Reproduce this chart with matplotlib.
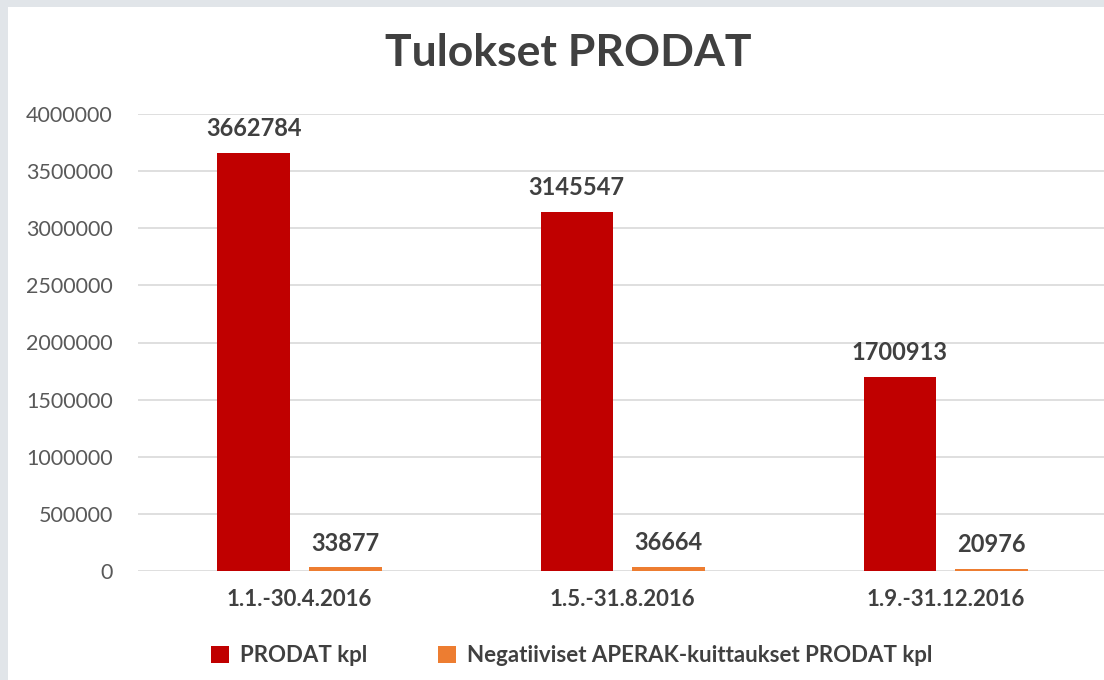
import matplotlib.pyplot as plt
import numpy as np
from matplotlib.patches import Rectangle

categories = ["1.1.-30.4.2016", "1.5.-31.8.2016", "1.9.-31.12.2016"]
prodat = [3662784, 3145547, 1700913]
negatiiviset = [33877, 36664, 20976]
series_names = ["PRODAT kpl", "Negatiiviset APERAK-kuittaukset PRODAT kpl"]
yticks = [0, 500000, 1000000, 1500000, 2000000, 2500000, 3000000, 3500000, 4000000]

RED = "#C00000"
ORANGE = "#ED7D31"
DARK = "#404040"

plt.rcParams['font.family'] = ['Lato', 'DejaVu Sans']

fig = plt.figure(figsize=(11.04, 6.8), dpi=100)
fig.patch.set_facecolor("#e1e5e9")
# white chart area
fig.patches.append(Rectangle((8 / 1104, 0), 1, 1 - 7 / 680, transform=fig.transFigure,
                             facecolor="white", edgecolor="none", zorder=-10))

ax = fig.add_axes([138 / 1104, 1 - 571 / 680, 1 - 138 / 1104, (571 - 114) / 680])
ax.set_facecolor("none")

x = np.arange(len(categories))
w = 0.224
off = 0.142
b1 = ax.bar(x - off, prodat, w, color=RED, label=series_names[0], zorder=3)
b2 = ax.bar(x + off, negatiiviset, w, color=ORANGE, label=series_names[1], zorder=3)

for bars, vals in [(b1, prodat), (b2, negatiiviset)]:
    for rect, v in zip(bars, vals):
        ax.annotate(str(v), (rect.get_x() + rect.get_width() / 2, v),
                    xytext=(0, 9), textcoords="offset points", ha="center", va="bottom",
                    fontsize=17, fontweight="bold", color=DARK)

ax.set_xlim(-0.5, 2.49)
ax.set_ylim(0, 4000000)
ax.set_yticks(yticks)
ax.set_yticklabels([str(t) for t in yticks])
ax.set_xticks(x)
ax.set_xticklabels(categories, fontweight="bold", fontsize=16, color=DARK)
ax.tick_params(axis="y", length=0, pad=18, labelsize=15.5, labelcolor="#595959")
ax.tick_params(axis="x", length=0, pad=13)
ax.grid(axis="y", color="#d9d9d9", linewidth=1.2, zorder=0)
for s in ax.spines.values():
    s.set_visible(False)

fig.text(568 / 1104, 1 - 53 / 680, "Tulokset PRODAT", ha="center", va="center",
         fontsize=32, fontweight="bold", color=DARK)

leg = fig.legend(handles=[b1, b2], loc="center", bbox_to_anchor=(572 / 1104, 1 - 656 / 680),
                 ncol=2, frameon=False, handlelength=0.8, handleheight=0.8,
                 handletextpad=0.5, columnspacing=3.2,
                 prop={"size": 16, "weight": "bold"})
for t in leg.get_texts():
    t.set_color(DARK)

fig.savefig("out.png", dpi=100, facecolor=fig.get_facecolor())
